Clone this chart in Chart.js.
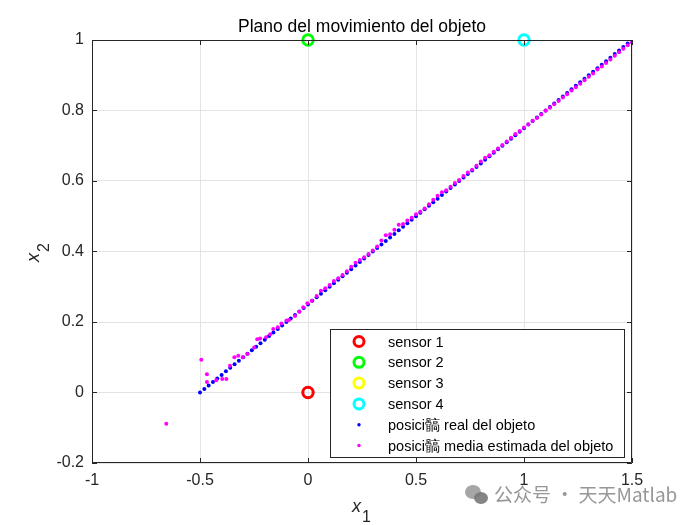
<!DOCTYPE html>
<html>
<head>
<meta charset="utf-8">
<script src="https://cdn.jsdelivr.net/npm/chart.js@4/dist/chart.umd.min.js"></script>
<style>
html,body{margin:0;padding:0;background:#fff;}
canvas{display:block;}
</style>
</head>
<body>
<canvas id="c" width="700" height="525"></canvas>
<script>
// ---- Data ----
const titleText = "Plano del movimiento del objeto";
const xTickValues = [-1, -0.5, 0, 0.5, 1, 1.5];
const xTickLabels = ["-1", "-0.5", "0", "0.5", "1", "1.5"];
const yTickValues = [-0.2, 0, 0.2, 0.4, 0.6, 0.8, 1];
const yTickLabels = ["-0.2", "0", "0.2", "0.4", "0.6", "0.8", "1"];

const sensorNames = ["sensor 1", "sensor 2", "sensor 3", "sensor 4"];
const sensorX = [0, 0, 1, 1];
const sensorY = [0, 1, 0, 1];

const realLabel = "posici髇 real del objeto";
const estLabel = "posici髇 media estimada del objeto";

const realX = [
 -0.50,-0.48,-0.46,-0.44,-0.42,-0.40,-0.38,-0.36,-0.34,-0.32,
 -0.30,-0.28,-0.26,-0.24,-0.22,-0.20,-0.18,-0.16,-0.14,-0.12,
 -0.10,-0.08,-0.06,-0.04,-0.02,0.00,0.02,0.04,0.06,0.08,
 0.10,0.12,0.14,0.16,0.18,0.20,0.22,0.24,0.26,0.28,
 0.30,0.32,0.34,0.36,0.38,0.40,0.42,0.44,0.46,0.48,
 0.50,0.52,0.54,0.56,0.58,0.60,0.62,0.64,0.66,0.68,
 0.70,0.72,0.74,0.76,0.78,0.80,0.82,0.84,0.86,0.88,
 0.90,0.92,0.94,0.96,0.98,1.00,1.02,1.04,1.06,1.08,
 1.10,1.12,1.14,1.16,1.18,1.20,1.22,1.24,1.26,1.28,
 1.30,1.32,1.34,1.36,1.38,1.40,1.42,1.44,1.46,1.48,1.50];
const realY = [
 0.00,0.01,0.02,0.03,0.04,0.05,0.06,0.07,0.08,0.09,
 0.10,0.11,0.12,0.13,0.14,0.15,0.16,0.17,0.18,0.19,
 0.20,0.21,0.22,0.23,0.24,0.25,0.26,0.27,0.28,0.29,
 0.30,0.31,0.32,0.33,0.34,0.35,0.36,0.37,0.38,0.39,
 0.40,0.41,0.42,0.43,0.44,0.45,0.46,0.47,0.48,0.49,
 0.50,0.51,0.52,0.53,0.54,0.55,0.56,0.57,0.58,0.59,
 0.60,0.61,0.62,0.63,0.64,0.65,0.66,0.67,0.68,0.69,
 0.70,0.71,0.72,0.73,0.74,0.75,0.76,0.77,0.78,0.79,
 0.80,0.81,0.82,0.83,0.84,0.85,0.86,0.87,0.88,0.89,
 0.90,0.91,0.92,0.93,0.94,0.95,0.96,0.97,0.98,0.99,1.00];

const estX = [
 -0.656,-0.494,-0.468,-0.468,-0.425,-0.397,-0.378,-0.361,-0.341,-0.323,
 -0.302,-0.281,-0.249,-0.235,-0.222,-0.194,-0.175,-0.161,-0.140,-0.123,
 -0.099,-0.088,-0.060,-0.040,-0.022,-0.003,0.017,
 0.04,0.06,0.08,0.10,0.12,0.14,0.16,0.18,0.20,0.22,
 0.24,0.26,0.28,0.30,0.32,0.34,0.36,0.38,0.40,0.42,
 0.44,0.46,0.48,0.50,0.52,0.54,0.56,0.58,0.60,0.62,
 0.64,0.66,0.68,0.70,0.72,0.74,0.76,0.78,0.80,0.82,
 0.84,0.86,0.88,0.90,0.92,0.94,0.96,0.98,1.00,1.02,
 1.04,1.06,1.08,1.10,1.12,1.14,1.16,1.18,1.20,1.22,
 1.24,1.26,1.28,1.30,1.32,1.34,1.36,1.38,1.40,1.42,
 1.44,1.46,1.48,1.50];
const estY = [
 -0.089,0.093,0.052,0.030,0.035,0.038,0.038,0.076,0.100,0.104,
 0.100,0.109,0.128,0.151,0.153,0.157,0.165,0.180,0.185,0.196,
 0.204,0.206,0.217,0.229,0.242,0.253,0.260,
 0.274,0.289,0.296,0.305,0.316,0.324,0.333,0.344,0.357,0.368,
 0.376,0.384,0.393,0.403,0.414,0.431,0.446,0.449,0.462,0.476,
 0.478,0.488,0.496,0.506,0.513,0.522,0.534,0.547,0.558,0.568,
 0.574,0.584,0.594,0.603,0.614,0.624,0.632,0.643,0.655,0.666,
 0.673,0.683,0.692,0.702,0.712,0.723,0.733,0.742,0.752,0.761,
 0.771,0.779,0.789,0.799,0.808,0.818,0.827,0.837,0.846,0.857,
 0.866,0.876,0.886,0.896,0.905,0.916,0.925,0.935,0.945,0.955,
 0.965,0.975,0.985,0.993];

// ---- Styles ----
const sensorColors = ["#ff0000", "#00ff00", "#ffff00", "#00ffff"];
const realColor = "#0000ff";
const estColor = "#ff00ff";
const axisColor = "#262626";
const gridColor = "#e3e3e3";
const FONT = "'Liberation Sans', Arial, Helvetica, sans-serif";

const toPts = (xs, ys) => xs.map((x, i) => ({x: x, y: ys[i]}));

const datasets = [];
datasets.push({
  label: estLabel, data: toPts(estX, estY), showLine: false,
  pointRadius: 2, pointBackgroundColor: estColor, pointBorderWidth: 0,
  pointBorderColor: estColor, order: 1
});
datasets.push({
  label: realLabel, data: toPts(realX, realY), showLine: false,
  pointRadius: 2, pointBackgroundColor: realColor, pointBorderWidth: 0,
  pointBorderColor: realColor, order: 2
});
for (let i = sensorNames.length - 1; i >= 0; i--) {
  datasets.push({
    label: sensorNames[i], data: [{x: sensorX[i], y: sensorY[i]}], showLine: false,
    pointRadius: 5.2, pointBackgroundColor: "rgba(0,0,0,0)", pointBorderWidth: 3,
    pointBorderColor: sensorColors[i], clip: false, order: 3 + (3 - i)
  });
}

const decorPlugin = {
  id: "decor",
  afterDraw(chart) {
    const ctx = chart.ctx;
    const {left, right, top, bottom} = chart.chartArea;
    const xs = chart.scales.x, ys = chart.scales.y;
    ctx.save();
    // axes box
    ctx.strokeStyle = axisColor;
    ctx.lineWidth = 1;
    ctx.beginPath();
    ctx.rect(left + 0.5, top + 0.5, right - left - 1, bottom - top - 1);
    ctx.stroke();
    // inward ticks
    const tl = 5;
    ctx.beginPath();
    xTickValues.forEach(v => {
      const px = Math.round(xs.getPixelForValue(v)) + 0.5;
      ctx.moveTo(px, bottom); ctx.lineTo(px, bottom - tl);
      ctx.moveTo(px, top); ctx.lineTo(px, top + tl);
    });
    yTickValues.forEach(v => {
      const py = Math.round(ys.getPixelForValue(v)) + 0.5;
      ctx.moveTo(left, py); ctx.lineTo(left + tl, py);
      ctx.moveTo(right, py); ctx.lineTo(right - tl, py);
    });
    ctx.stroke();

    // title
    ctx.fillStyle = "#000";
    ctx.font = "17.5px " + FONT;
    ctx.textAlign = "center";
    ctx.textBaseline = "alphabetic";
    ctx.fillText(titleText, (left + right) / 2, 32);

    // x label  x_1
    ctx.fillStyle = axisColor;
    ctx.font = "italic 18px " + FONT;
    ctx.textAlign = "left";
    ctx.fillText("x", 352, 512);
    ctx.font = "16px " + FONT;
    ctx.fillText("1", 362, 522);

    // y label  x_2 (rotated)
    ctx.save();
    ctx.translate(39, 262);
    ctx.rotate(-Math.PI / 2);
    ctx.font = "italic 18px " + FONT;
    ctx.textAlign = "left";
    ctx.fillText("x", 0, 0);
    ctx.font = "16px " + FONT;
    ctx.fillText("2", 10, 10);
    ctx.restore();

    // legend
    const lx = 330, ly = 329, lw = 294, lh = 128;
    ctx.fillStyle = "#fff";
    ctx.fillRect(lx, ly, lw, lh);
    ctx.strokeStyle = axisColor;
    ctx.lineWidth = 1;
    ctx.strokeRect(lx + 0.5, ly + 0.5, lw, lh);
    const rowY0 = 341.5, rowDY = 20.8;
    const markX = 359, textX = 388;
    ctx.font = "14.5px " + FONT;
    ctx.textBaseline = "middle";
    ctx.textAlign = "left";
    for (let i = 0; i < 4; i++) {
      const y = rowY0 + i * rowDY;
      ctx.beginPath();
      ctx.strokeStyle = sensorColors[i];
      ctx.lineWidth = 3;
      ctx.arc(markX, y, 5, 0, Math.PI * 2);
      ctx.stroke();
      ctx.fillStyle = "#000";
      ctx.fillText(sensorNames[i], textX, y + 1);
    }
    const extra = [[realLabel, realColor], [estLabel, estColor]];
    extra.forEach((e, j) => {
      const y = rowY0 + (4 + j) * rowDY;
      ctx.beginPath();
      ctx.fillStyle = e[1];
      ctx.arc(markX, y, 1.7, 0, Math.PI * 2);
      ctx.fill();
      ctx.fillStyle = "#000";
      ctx.fillText(e[0], textX, y + 1);
    });

    // watermark
    ctx.fillStyle = "rgba(150,150,150,0.85)";
    ctx.beginPath();
    ctx.ellipse(473, 492, 8, 7, 0, 0, Math.PI * 2);
    ctx.fill();
    ctx.beginPath();
    ctx.fillStyle = "rgba(120,120,120,0.9)";
    ctx.ellipse(481, 498, 7, 6, 0, 0, Math.PI * 2);
    ctx.fill();
    ctx.fillStyle = "rgba(140,140,140,0.9)";
    ctx.font = "19px 'Noto Sans CJK SC', 'Noto Sans', sans-serif";
    ctx.textBaseline = "middle";
    ctx.textAlign = "left";
    ctx.fillText("公众号 · 天天Matlab", 494, 495);
    ctx.restore();
  }
};

new Chart(document.getElementById("c"), {
  type: "scatter",
  data: {datasets: datasets},
  options: {
    responsive: false,
    animation: false,
    events: [],
    layout: {padding: {left: 0, right: 68, top: 40, bottom: 0}},
    plugins: {legend: {display: false}, tooltip: {enabled: false}, title: {display: false}},
    scales: {
      x: {
        type: "linear", min: -1, max: 1.5,
        afterBuildTicks: s => { s.ticks = xTickValues.map(v => ({value: v})); },
        afterFit: s => { s.height = 62; },
        grid: {color: gridColor, drawTicks: false, lineWidth: 1},
        border: {display: false},
        ticks: {
          padding: 8, color: axisColor, font: {family: FONT, size: 16},
          maxRotation: 0, autoSkip: false,
          callback: (v, i) => xTickLabels[i]
        }
      },
      y: {
        type: "linear", min: -0.2, max: 1,
        afterBuildTicks: s => { s.ticks = yTickValues.map(v => ({value: v})); },
        afterFit: s => { s.width = 92; },
        grid: {color: gridColor, drawTicks: false, lineWidth: 1},
        border: {display: false},
        ticks: {
          padding: 8, color: axisColor, font: {family: FONT, size: 16},
          autoSkip: false,
          callback: (v, i) => yTickLabels[i]
        }
      }
    }
  },
  plugins: [decorPlugin]
});
</script>
</body>
</html>
